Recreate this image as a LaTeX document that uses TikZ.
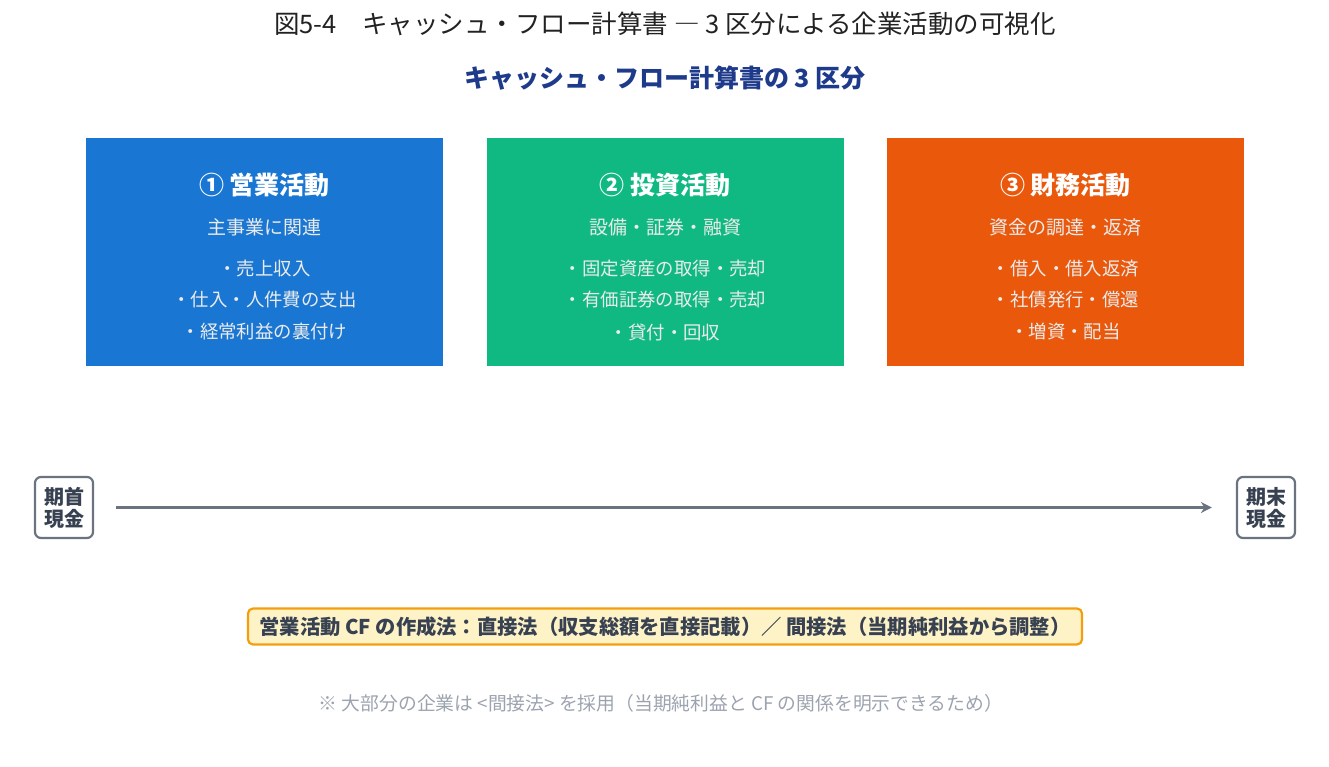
\documentclass[tikz,border=0pt]{standalone}
\usepackage{fontspec}
\setmainfont{Noto Sans CJK JP}
\usetikzlibrary{arrows.meta}
\definecolor{cblue}{HTML}{1976D2}
\definecolor{cgreen}{HTML}{10B981}
\definecolor{corange}{HTML}{EA580C}
\definecolor{navy}{HTML}{1E3A8A}
\definecolor{gline}{HTML}{6B7280}
\definecolor{gtext}{HTML}{374151}
\definecolor{ybg}{HTML}{FEF3C7}
\definecolor{yborder}{HTML}{F59E0B}
\definecolor{notec}{HTML}{9CA3AF}
\definecolor{titlec}{HTML}{222222}
\begin{document}
\begin{tikzpicture}[x=1pt,y=-1pt,
  catbox/.style={minimum width=357pt,minimum height=228pt,anchor=north west,inner sep=0pt},
  cathead/.style={text=white,font=\fontsize{25}{30}\selectfont\bfseries},
  catsub/.style={text=white!92!black,font=\fontsize{19}{23}\selectfont},
  catitem/.style={text=white!92!black,font=\fontsize{18.4}{22}\selectfont},
  cash/.style={draw=gline,line width=2.2pt,rounded corners=6pt,minimum width=58pt,minimum height=61pt,align=center,text=gtext,font=\fontsize{20}{25}\selectfont\bfseries,inner sep=1pt},
  flow/.style={draw=gline,line width=3.2pt,-{Stealth[length=11pt,width=11pt]}}
]
\useasboundingbox (0,0) rectangle (1329,767);
\node[text=titlec,font=\fontsize{25.5}{30}\selectfont] (title) at (665,24) {図5-4　キャッシュ・フロー計算書 ― 3 区分による企業活動の可視化};
\node[text=navy,font=\fontsize{25}{30}\selectfont\bfseries] (sub) at (665,78) {キャッシュ・フロー計算書の 3 区分};

\node[catbox,fill=cblue] (b1) at (86,138) {};
\node[catbox,fill=cgreen] (b2) at (487,138) {};
\node[catbox,fill=corange] (b3) at (887,138) {};

\node[cathead] (h1) at (264.5,185) {① 営業活動};
\node[catsub] (s1) at (264.5,227) {主事業に関連};
\node[catitem] (i1a) at (264.5,269) {・売上収入};
\node[catitem] (i1b) at (264.5,300) {・仕入・人件費の支出};
\node[catitem] (i1c) at (264.5,332) {・経常利益の裏付け};

\node[cathead] (h2) at (665,185) {② 投資活動};
\node[catsub] (s2) at (665,227) {設備・証券・融資};
\node[catitem] (i2a) at (665,269) {・固定資産の取得・売却};
\node[catitem] (i2b) at (665,300) {・有価証券の取得・売却};
\node[catitem] (i2c) at (665,332) {・貸付・回収};

\node[cathead] (h3) at (1065.5,185) {③ 財務活動};
\node[catsub] (s3) at (1065.5,227) {資金の調達・返済};
\node[catitem] (i3a) at (1065.5,269) {・借入・借入返済};
\node[catitem] (i3b) at (1065.5,300) {・社債発行・償還};
\node[catitem] (i3c) at (1065.5,332) {・増資・配当};

\node[cash] (start) at (64,507.5) {期首\\[-3pt]現金};
\node[cash] (end) at (1266,507.5) {期末\\[-3pt]現金};
\draw[flow,shorten <=22pt,shorten >=24pt] (start.east) -- (end.west);

\node[draw=yborder,fill=ybg,line width=2.2pt,rounded corners=5pt,minimum width=834pt,minimum height=36pt,inner sep=0pt,text=gtext,font=\fontsize{20.3}{24}\selectfont\bfseries] (method) at (665,626.5) {営業活動 CF の作成法：直接法（収支総額を直接記載）／ 間接法（当期純利益から調整）};

\node[text=notec,font=\fontsize{18.8}{22}\selectfont] (note) at (661,703) {※ 大部分の企業は <間接法> を採用（当期純利益と CF の関係を明示できるため）};
\end{tikzpicture}
\end{document}
